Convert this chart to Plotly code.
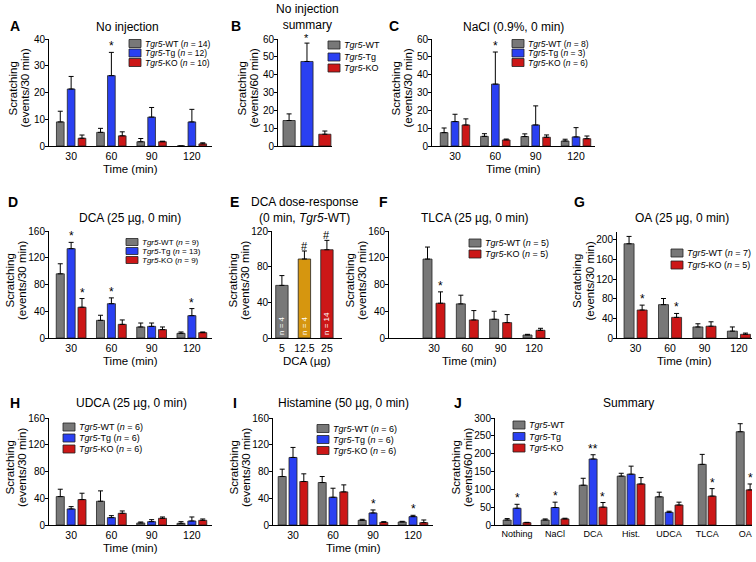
import plotly.graph_objects as go

W, H = 756, 562
FONT = "Liberation Sans, Arial, sans-serif"
GREY, BLUE, RED, GOLD = "#787878", "#2a40f2", "#cc1717", "#d6960f"
EDGE = "#222222"

# ------------------------------------------------------------------ data
time_cats = ["30", "60", "90", "120"]

a_wt = [9.0, 5.1, 1.6, 0.0]
a_wt_err = [4.0, 1.5, 1.2, 0.0]
a_tg = [21.3, 26.3, 10.8, 9.0]
a_tg_err = [4.7, 8.7, 3.6, 4.7]
a_ko = [2.9, 3.8, 1.6, 0.8]
a_ko_err = [1.2, 1.5, 0.2, 0.4]
a_tg_sig = ["", "*", "", ""]

b_cats = ["WT", "Tg", "KO"]
b_vals = [14.3, 47.4, 6.6]
b_err = [3.7, 10.3, 1.8]
b_sig = ["", "*", ""]

c_wt = [7.5, 5.4, 5.3, 2.8]
c_wt_err = [2.6, 1.5, 1.5, 1.0]
c_tg = [13.7, 34.7, 11.8, 5.1]
c_tg_err = [4.1, 18.0, 10.7, 5.2]
c_ko = [11.8, 3.4, 4.9, 4.1]
c_ko_err = [3.4, 0.5, 1.3, 1.5]
c_tg_sig = ["", "*", "", ""]

d_wt = [96.0, 26.4, 16.5, 7.0]
d_wt_err = [15.0, 7.6, 5.9, 2.0]
d_tg = [133.6, 51.3, 17.4, 33.4]
d_tg_err = [9.4, 8.7, 5.0, 10.6]
d_ko = [46.0, 20.4, 12.5, 8.0]
d_ko_err = [13.0, 6.6, 4.0, 1.0]
d_tg_sig = ["*", "*", "", "*"]
d_ko_sig = ["*", "", "", ""]

e_cats = ["5", "12.5", "25"]
e_vals = [59.0, 88.6, 99.0]
e_err = [11.0, 9.0, 10.5]
e_n = ["n = 4", "n = 4", "n = 14"]
e_sig = ["", "#", "#"]

f_wt = [118.0, 51.0, 28.0, 4.5]
f_wt_err = [18.0, 13.0, 12.0, 1.0]
f_ko = [52.0, 27.0, 23.0, 11.5]
f_ko_err = [17.0, 14.0, 12.0, 3.0]
f_ko_sig = ["*", "", "", ""]

g_wt = [192.0, 68.0, 22.5, 14.0]
g_wt_err = [15.0, 12.5, 6.5, 8.5]
g_ko = [57.0, 42.0, 24.0, 7.5]
g_ko_err = [10.0, 8.0, 9.0, 2.5]
g_ko_sig = ["*", "*", "", ""]

h_wt = [42.5, 35.5, 3.0, 2.5]
h_wt_err = [11.0, 15.5, 1.5, 2.5]
h_tg = [24.0, 11.0, 5.0, 6.0]
h_tg_err = [3.5, 3.0, 3.0, 6.0]
h_ko = [38.0, 17.5, 10.0, 7.0]
h_ko_err = [9.5, 3.5, 2.0, 2.0]

i_wt = [72.5, 63.5, 7.0, 4.5]
i_wt_err = [11.0, 9.0, 1.5, 1.0]
i_tg = [101.0, 41.5, 18.0, 12.5]
i_tg_err = [15.0, 13.5, 4.5, 2.0]
i_ko = [65.0, 49.5, 4.0, 3.5]
i_ko_err = [11.5, 10.5, 1.0, 4.0]
i_tg_sig = ["", "", "*", "*"]

j_cats = ["Nothing", "NaCl", "DCA", "Hist.", "UDCA", "TLCA", "OA"]
j_tg_cats = ["Nothing", "NaCl", "DCA", "Hist.", "UDCA"]
j_wt = [14.0, 14.0, 111.5, 137.0, 79.0, 170.0, 261.5]
j_wt_err = [4.0, 3.0, 19.5, 8.0, 13.0, 28.0, 22.5]
j_tg = [47.0, 49.0, 185.0, 142.5, 35.6]
j_tg_err = [11.0, 15.0, 12.0, 22.5, 3.0]
j_ko = [6.5, 17.0, 50.0, 115.0, 56.0, 81.0, 98.4]
j_ko_err = [1.0, 2.0, 13.0, 18.0, 8.0, 21.0, 16.6]
j_tg_sig = ["*", "*", "**", "", ""]
j_ko_sig = ["", "", "*", "", "", "*", "*"]

# ------------------------------------------------------------------ helpers
fig = go.Figure()
annotations = []
shapes = []
layout_axes = {}


def px_x(x):
    return x / W


def px_y(y):
    return 1 - y / H


def text_ann(x, y, text, size, xanchor="center", yanchor="middle", bold=False, angle=0):
    if bold:
        text = "<b>" + text + "</b>"
    annotations.append(dict(x=px_x(x), y=px_y(y), xref="paper", yref="paper",
                            text=text, showarrow=False, xanchor=xanchor, textangle=angle,
                            yanchor=yanchor, font=dict(family=FONT, size=size, color="black")))


def legend(box_left, rows, entries, box_w=12, box_h=8, size=8.5):
    for yc, (label, color) in zip(rows, entries):
        shapes.append(dict(type="rect", xref="paper", yref="paper",
                           x0=px_x(box_left), x1=px_x(box_left + box_w),
                           y0=px_y(yc + box_h / 2), y1=px_y(yc - box_h / 2),
                           fillcolor=color, line=dict(color=EDGE, width=0.8)))
        text_ann(box_left + box_w + 2, yc, label, size, xanchor="left")


def axes(p, box, yrange, yticks, xrange, cats, ytitle, xtitle, xtick_size=10.5):
    l, r, t, b = box
    sx = "" if p == 1 else str(p)
    layout_axes["xaxis" + sx] = dict(
        domain=[px_x(l), px_x(r)], range=xrange, type="category",
        categoryorder="array", categoryarray=cats, anchor="y" + sx,
        showline=True, linecolor="black", linewidth=1, ticks="",
        showgrid=False, zeroline=False, automargin=False, fixedrange=True,
        tickfont=dict(family=FONT, size=xtick_size, color="black"),
    )
    layout_axes["yaxis" + sx] = dict(
        domain=[px_y(b), px_y(t)], range=yrange, anchor="x" + sx,
        tickvals=yticks, ticks="outside", ticklen=3, tickwidth=1, tickcolor="black",
        showline=True, linecolor="black", linewidth=1, showgrid=False,
        zeroline=False, automargin=False, fixedrange=True, ticklabelstandoff=-2,
        tickfont=dict(family=FONT, size=10, color="black"),
    )
    # axis titles placed next to the axes
    wide = len(str(yticks[-1])) >= 3
    off1, off2 = (40, 27.5) if wide else (36, 24)
    yc = (t + b) / 2 - 4
    text_ann(l - off1, yc, ytitle[0], 11.5, angle=-90)
    text_ann(l - off2, yc, ytitle[1], 11.5, angle=-90)
    if xtitle:
        text_ann((l + r) / 2, b + 23, xtitle, 11.5)
    return "x" + sx, "y" + sx


def grouped(p, xa, ya, all_cats, series, bw, step):
    cat_lists = [s["cats"] for s in series]
    for k, s in enumerate(series):
        cs = []
        for cat in s["cats"]:
            members = [m for m, cl in enumerate(cat_lists) if cat in cl]
            n = len(members)
            cs.append((members.index(k) - (n - 1) / 2) * step)
        n = len(s["cats"])
        fig.add_trace(go.Bar(
            x=s["cats"], y=s["vals"], width=[bw] * n, offset=[c - bw / 2 for c in cs],
            marker=dict(color=s["color"], line=dict(color=EDGE, width=0.8)),
            error_y=dict(type="data", array=s["err"], arrayminus=[0] * n, symmetric=False,
                         color="black", thickness=1, width=2.5),
            xaxis=xa, yaxis=ya, showlegend=False, hoverinfo="skip"))
        sig = s.get("sig")
        if sig:
            for cat, c, v, e, t in zip(s["cats"], cs, s["vals"], s["err"], sig):
                if t:
                    annotations.append(dict(x=all_cats.index(cat) + c, y=v + e, xref=xa, yref=ya,
                                            text=t, showarrow=False, yanchor="bottom", yshift=-3,
                                            font=dict(family=FONT, size=12, color="black")))


def single(p, xa, ya, cats, vals, err, colors, bw, sig, text=None):
    n = len(cats)
    kw = {}
    if text:
        kw = dict(text=text, textposition="inside", insidetextanchor="start", textangle=-90,
                  insidetextfont=dict(family=FONT, size=8, color="white"), constraintext="none")
    fig.add_trace(go.Bar(
        x=cats, y=vals, width=[bw] * n, offset=[-bw / 2] * n,
        marker=dict(color=colors, line=dict(color=EDGE, width=0.8)),
        error_y=dict(type="data", array=err, arrayminus=[0] * n, symmetric=False,
                     color="black", thickness=1, width=2.5),
        xaxis=xa, yaxis=ya, showlegend=False, hoverinfo="skip", **kw))
    for i, (v, e, t) in enumerate(zip(vals, err, sig)):
        if t:
            annotations.append(dict(x=i, y=v + e, xref=xa, yref=ya, text=t, showarrow=False,
                                    yanchor="bottom", yshift=-3,
                                    font=dict(family=FONT, size=11, color="black")))


def three(wt, wte, tg, tge, ko, koe, tgs=None, kos=None):
    return [dict(cats=time_cats, vals=wt, err=wte, color=GREY),
            dict(cats=time_cats, vals=tg, err=tge, color=BLUE, sig=tgs),
            dict(cats=time_cats, vals=ko, err=koe, color=RED, sig=kos)]


Y30 = ("Scratching", "(events/30 min)")
Y60 = ("Scratching", "(events/60 min)")
TIME = "Time (min)"
T5 = "<i>Tgr5</i>"

# ---- A
xa, ya = axes(1, (49, 212, 39, 146), [0, 40], [0, 10, 20, 30, 40], [-0.55, 3.5], time_cats, Y30, TIME)
grouped(1, xa, ya, time_cats, three(a_wt, a_wt_err, a_tg, a_tg_err, a_ko, a_ko_err, a_tg_sig), 0.19, 0.27)
text_ann(127, 27, "No injection", 12)
text_ann(8, 26, "A", 14, xanchor="left", bold=True)
legend(129, [43.5, 53, 62.5], [(T5 + "-WT (<i>n</i> = 14)", GREY), (T5 + "-Tg (<i>n</i> = 12)", BLUE),
                               (T5 + "-KO (<i>n</i> = 10)", RED)])

# ---- B
xa, ya = axes(2, (278, 332, 39, 146), [0, 60], [0, 10, 20, 30, 40, 50, 60], [-0.62, 2.4], b_cats, Y60, None)
layout_axes["xaxis2"]["showticklabels"] = False
single(2, xa, ya, b_cats, b_vals, b_err, [GREY, BLUE, RED], 0.68, b_sig)
text_ann(307, 17, "No injection<br>summary", 12)
text_ann(229, 26, "B", 14, xanchor="left", bold=True)
legend(328, [45, 57, 68], [(T5 + "-WT", GREY), (T5 + "-Tg", BLUE), (T5 + "-KO", RED)], size=9)

# ---- C
xa, ya = axes(3, (432, 595, 39, 146), [0, 60], [0, 10, 20, 30, 40, 50, 60], [-0.57, 3.47], time_cats, Y30, TIME)
grouped(3, xa, ya, time_cats, three(c_wt, c_wt_err, c_tg, c_tg_err, c_ko, c_ko_err, c_tg_sig), 0.19, 0.27)
text_ann(513, 27, "NaCl (0.9%, 0 min)", 12)
text_ann(387, 26, "C", 14, xanchor="left", bold=True)
legend(512, [43.5, 53, 62.5], [(T5 + "-WT (<i>n</i> = 8)", GREY), (T5 + "-Tg (<i>n</i> = 3)", BLUE),
                               (T5 + "-KO (<i>n</i> = 6)", RED)])

# ---- D
xa, ya = axes(4, (49, 212, 231, 338), [0, 160], [0, 40, 80, 120, 160], [-0.55, 3.5], time_cats, Y30, TIME)
grouped(4, xa, ya, time_cats, three(d_wt, d_wt_err, d_tg, d_tg_err, d_ko, d_ko_err, d_tg_sig, d_ko_sig), 0.2, 0.27)
text_ann(130, 218, "DCA (25 µg, 0 min)", 12)
text_ann(6, 202, "D", 14, xanchor="left", bold=True)
legend(126, [242, 251, 260], [(T5 + "-WT (<i>n</i> = 9)", GREY), (T5 + "-Tg (<i>n</i> = 13)", BLUE),
                              (T5 + "-KO (<i>n</i> = 9)", RED)], box_h=7, size=8)

# ---- E
xa, ya = axes(5, (272, 342, 231, 338), [0, 120], [0, 40, 80, 120], [-0.44, 2.67], e_cats, Y30, "DCA (µg)")
single(5, xa, ya, e_cats, e_vals, e_err, [GREY, GOLD, RED], 0.55, e_sig, text=e_n)
text_ann(305, 210, "DCA dose-response<br>(0 min, " + T5 + "-WT)", 12)
text_ann(228, 202, "E", 14, xanchor="left", bold=True)

# ---- F
xa, ya = axes(6, (389, 550, 231, 338), [0, 160], [0, 40, 80, 120, 160], [-1.35, 3.48], time_cats, Y30, TIME)
grouped(6, xa, ya, time_cats, [dict(cats=time_cats, vals=f_wt, err=f_wt_err, color=GREY),
                               dict(cats=time_cats, vals=f_ko, err=f_ko_err, color=RED, sig=f_ko_sig)],
        0.27, 0.39)
text_ann(475, 218, "TLCA (25 µg, 0 min)", 12)
text_ann(377, 202, "F", 14, xanchor="left", bold=True)
legend(469, [243, 254], [(T5 + "-WT (<i>n</i> = 5)", GREY), (T5 + "-KO (<i>n</i> = 5)", RED)], size=9)

# ---- G
xa, ya = axes(7, (617, 752, 232, 338), [0, 216], [0, 40, 80, 120, 160, 200], [-0.54, 3.38], time_cats, Y30, TIME)
grouped(7, xa, ya, time_cats, [dict(cats=time_cats, vals=g_wt, err=g_wt_err, color=GREY),
                               dict(cats=time_cats, vals=g_ko, err=g_ko_err, color=RED, sig=g_ko_sig)],
        0.29, 0.38)
text_ann(682, 218, "OA (25 µg, 0 min)", 12)
text_ann(572, 202, "G", 14, xanchor="left", bold=True)
legend(671, [253, 265], [(T5 + "-WT (<i>n</i> = 7)", GREY), (T5 + "-KO (<i>n</i> = 5)", RED)], size=9)

# ---- H
xa, ya = axes(8, (49, 212, 418, 525), [0, 160], [0, 40, 80, 120, 160], [-0.55, 3.5], time_cats, Y30, TIME)
grouped(8, xa, ya, time_cats, three(h_wt, h_wt_err, h_tg, h_tg_err, h_ko, h_ko_err), 0.2, 0.27)
text_ann(131, 403, "UDCA (25 µg, 0 min)", 12)
text_ann(8, 403, "H", 14, xanchor="left", bold=True)
legend(63, [427, 438, 449], [(T5 + "-WT (<i>n</i> = 6)", GREY), (T5 + "-Tg (<i>n</i> = 6)", BLUE),
                             (T5 + "-KO (<i>n</i> = 6)", RED)], size=9)

# ---- I
xa, ya = axes(9, (273, 433, 418, 525), [0, 160], [0, 40, 80, 120, 160], [-0.5, 3.5], time_cats, Y30, TIME)
grouped(9, xa, ya, time_cats, three(i_wt, i_wt_err, i_tg, i_tg_err, i_ko, i_ko_err, i_tg_sig), 0.2, 0.27)
text_ann(343, 403, "Histamine (50 µg, 0 min)", 12)
text_ann(231, 403, "I", 14, xanchor="left", bold=True)
legend(317, [428.5, 439.5, 450.5], [(T5 + "-WT (<i>n</i> = 6)", GREY), (T5 + "-Tg (<i>n</i> = 6)", BLUE),
                                    (T5 + "-KO (<i>n</i> = 6)", RED)], size=9)

# ---- J
xa, ya = axes(10, (495, 752, 418, 525), [0, 300], [0, 50, 100, 150, 200, 250, 300], [-0.58, 6.18],
              j_cats, Y60, None, xtick_size=9)
grouped(10, xa, ya, j_cats, [dict(cats=j_cats, vals=j_wt, err=j_wt_err, color=GREY),
                             dict(cats=j_tg_cats, vals=j_tg, err=j_tg_err, color=BLUE, sig=j_tg_sig),
                             dict(cats=j_cats, vals=j_ko, err=j_ko_err, color=RED, sig=j_ko_sig)],
        0.21, 0.26)
text_ann(628, 403, "Summary", 12)
text_ann(452, 403, "J", 14, xanchor="left", bold=True)
legend(513, [425, 436.5, 448], [(T5 + "-WT", GREY), (T5 + "-Tg", BLUE), (T5 + "-KO", RED)], size=9)

fig.update_layout(
    width=W, height=H, margin=dict(l=0, r=0, t=0, b=0),
    paper_bgcolor="white", plot_bgcolor="white", barmode="overlay",
    font=dict(family=FONT, color="black"), showlegend=False,
    annotations=annotations, shapes=shapes, **layout_axes,
)

fig.write_html("out.html", config={"displayModeBar": False},
               post_script="document.body.style.margin='0px';")
